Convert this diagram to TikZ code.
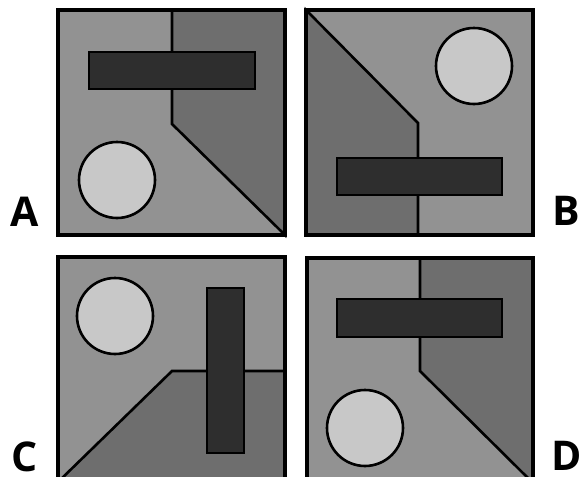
\documentclass[tikz,border=0pt]{standalone}
\usepackage{fontspec}
\setmainfont{Open Sans}
\usepackage{tikz}
\definecolor{panelmid}{RGB}{146,146,146}
\definecolor{paneldark}{RGB}{110,110,110}
\definecolor{barfill}{RGB}{46,46,46}
\definecolor{discfill}{RGB}{200,200,200}

\begin{document}
\begin{tikzpicture}[x=1pt, y=-1pt,
      panel/.style={draw=black, line width=3.2pt, fill=panelmid},
      shade/.style={draw=black, line width=2.6pt, fill=paneldark, line join=miter},
      bar/.style={draw=black, line width=2.6pt, fill=barfill},
      disc/.style={draw=black, line width=2.6pt, fill=discfill},
      tag/.style={font=\fontsize{41}{41}\selectfont\bfseries, inner sep=0pt, text depth=0pt}
    ]
    \useasboundingbox (0,0) rectangle (587,477);
    \fill[white] (0,0) rectangle (587,477);

    % A
    \fill[panelmid] (58,10) rectangle (285,235);
    \draw[shade] (172,10) -- (172,124) -- (285,235) -- (285,10) -- cycle;
    \draw[bar] (89,52) rectangle (255,89);
    \draw[disc] (117,180) circle[radius=38];
    \draw[panel, fill=none] (58,10) rectangle (285,235);
    \node[tag] (tagA) at (25,212) {A};

    % B
    \fill[panelmid] (306,10) rectangle (533,235);
    \draw[shade] (306,10) -- (418,123) -- (418,235) -- (306,235) -- cycle;
    \draw[bar] (337,158) rectangle (502,195);
    \draw[disc] (474,66) circle[radius=38];
    \draw[panel, fill=none] (306,10) rectangle (533,235);
    \node[tag] (tagB) at (566,211) {B};

    % C
    \fill[panelmid] (58,257) rectangle (285,482);
    \draw[shade] (58,482) -- (172,371) -- (285,371) -- (285,482) -- cycle;
    \draw[bar] (207,288) rectangle (244,453);
    \draw[disc] (115,316) circle[radius=38];
    \draw[panel, fill=none] (58,257) rectangle (285,482);
    \node[tag] (tagC) at (25,457) {C};

    % D
    \fill[panelmid] (307,258) rectangle (533,483);
    \draw[shade] (420,258) -- (420,371) -- (533,483) -- (533,258) -- cycle;
    \draw[bar] (337,299) rectangle (502,337);
    \draw[disc] (365,428) circle[radius=38];
    \draw[panel, fill=none] (307,258) rectangle (533,483);
    \node[tag] (tagD) at (567,456) {D};
  \end{tikzpicture}
\end{document}
